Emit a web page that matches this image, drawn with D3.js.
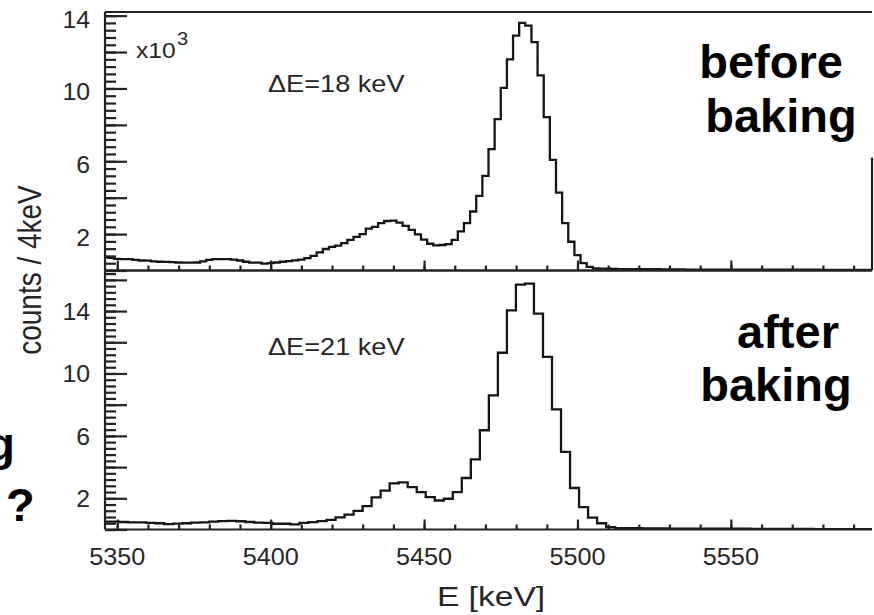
<!DOCTYPE html>
<html><head><meta charset="utf-8">
<script src="https://cdn.jsdelivr.net/npm/d3@7"></script>
<style>body{margin:0;background:#fff;} svg{display:block;}</style>
</head><body>
<svg id="chart" width="874" height="615"></svg>
<script>
// ---- data ----
const xTickValues = [5350, 5400, 5450, 5500, 5550];
const yTickLabelsTop = [2, 6, 10, 14];
const yTickLabelsBottom = [2, 6, 10, 14];
const resolutionLabels = ["\u0394E=18 keV", "\u0394E=21 keV"];
const stateLabels = [["before", "baking"], ["after", "baking"]];

// before baking: bins of 2 keV starting at 5345 keV, counts in 10^3
const beforeBinStart = 5345, beforeBinWidth = 2;
const beforeCounts = [
  0.73,0.70,0.64,0.62,0.62,0.58,0.55,0.54,0.50,0.48,
  0.47,0.46,0.44,0.43,0.43,0.44,0.50,0.58,0.62,0.63,
  0.62,0.60,0.55,0.48,0.43,0.43,0.38,0.40,0.44,0.48,
  0.52,0.56,0.60,0.68,0.80,1.00,1.18,1.30,1.37,1.50,
  1.68,1.85,2.00,2.30,2.40,2.60,2.72,2.74,2.63,2.45,
  2.23,1.98,1.70,1.47,1.38,1.40,1.45,1.68,2.15,2.60,
  3.24,4.10,5.20,6.67,8.32,10.03,11.60,12.90,13.60,13.45,
  12.54,10.72,8.43,6.08,4.28,2.60,1.58,0.85,0.40,0.20,
  0.12,0.10,0.10,0.09,0.08,0.08,0.08,0.07,0.07,0.07,
  0.07,0.06,0.06,0.06,0.06,0.05,0.05,0.05,0.05,0.05,
  0.05,0.05,0.05,0.05,0.04,0.04,0.04,0.04,0.04,0.04,
  0.04,0.04,0.04,0.04,0.04,0.04,0.04,0.03,0.03,0.03,
  0.03,0.03,0.03,0.03,0.03,0.03
];

// after baking: coarser bins, counts in 10^3
const afterBinStart = 5344.7, afterBinWidth = 2.94;
const afterCounts = [
  0.50,
  0.50,0.48,0.46,0.46,0.43,0.40,0.35,0.38,0.40,0.44,
  0.46,0.50,0.54,0.55,0.53,0.48,0.44,0.42,0.37,0.37,
  0.33,0.42,0.47,0.54,0.62,0.78,0.95,1.20,1.50,2.06,
  2.49,2.95,3.02,2.72,2.40,2.07,1.86,1.97,2.40,3.30,
  4.50,6.36,8.60,11.33,14.05,15.70,15.76,13.83,11.06,7.70,
  4.97,2.66,1.44,0.76,0.40,0.15,0.09,0.08,0.08,0.07,
  0.07,0.07,0.06,0.06,0.06,0.05,0.05,0.05,0.05,0.05,
  0.05,0.04,0.04,0.04,0.04,0.04,0.04,0.04,0.03,0.03,
  0.03,0.03,0.03,0.03,0.03
];

// ---- drawing ----
const svg = d3.select("#chart");
const FONT = "'Liberation Sans', Arial, Helvetica, sans-serif";
const X0 = 105, X1 = 872;
const x = d3.scaleLinear().domain([5346, 5596]).range([X0, X1]);
const INK = "#222";

const panels = [
  { counts: beforeCounts, start: beforeBinStart, width: beforeBinWidth,
    y: d3.scaleLinear().domain([0, 14.2]).range([270.5, 12]),
    labels: yTickLabelsTop, labelDy: 12, res: resolutionLabels[0], resY: 92,
    state: stateLabels[0], stateX: [771, 781], stateY: [78, 132] },
  { counts: afterCounts, start: afterBinStart, width: afterBinWidth,
    y: d3.scaleLinear().domain([0, 16.6]).range([529.5, 270.5]),
    labels: yTickLabelsBottom, labelDy: 9, res: resolutionLabels[1], resY: 355,
    state: stateLabels[1], stateX: [788, 776], stateY: [348, 401] }
];

function stretchedText(parent, px, py, str, size, sx, anchor) {
  const g = parent.append("g").attr("transform", `translate(${px},${py}) scale(${sx},1)`);
  g.append("text").attr("x", 0).attr("y", 0)
    .attr("font-family", FONT).attr("font-size", size)
    .attr("text-anchor", anchor || "start").attr("fill", "#262626").text(str);
  return g;
}

const defs = svg.append("defs");

panels.forEach((p, pi) => {
  const [yb, yt] = p.y.range();
  const ymax = p.y.domain()[1];

  defs.append("clipPath").attr("id", "clip" + pi)
    .append("rect").attr("x", X0).attr("y", yt).attr("width", X1 - X0).attr("height", yb - yt);

  // histogram (step line)
  const pts = p.counts.map((c, i) => [p.start + i * p.width, c]);
  pts.push([p.start + p.counts.length * p.width, p.counts[p.counts.length - 1]]);
  const line = d3.line().x(d => x(d[0])).y(d => p.y(d[1])).curve(d3.curveStepAfter);
  svg.append("path").datum(pts).attr("d", line)
    .attr("clip-path", `url(#clip${pi})`)
    .attr("fill", "none").attr("stroke", "#151515").attr("stroke-width", 2.3);

  // y ticks (inside)
  const yMinor = d3.axisRight(p.y).tickValues(d3.range(0, ymax, 0.4)).tickSize(11).tickFormat("");
  const yMajor = d3.axisRight(p.y).tickValues(d3.range(0, ymax, 2)).tickSize(22).tickFormat("");
  [yMinor, yMajor].forEach(ax => {
    svg.append("g").attr("transform", `translate(${X0},0)`).call(ax)
      .call(g => g.select(".domain").remove())
      .call(g => g.selectAll("line").attr("stroke", INK).attr("stroke-width", 2.2));
  });

  // x ticks (inside, pointing up)
  const xMinor = d3.axisBottom(x).tickValues(d3.range(5350, 5596, 10)).tickSize(-5).tickFormat("");
  const xMajor = d3.axisBottom(x).tickValues(xTickValues).tickSize(-10).tickFormat("");
  [xMinor, xMajor].forEach(ax => {
    svg.append("g").attr("transform", `translate(0,${yb})`).call(ax)
      .call(g => g.select(".domain").remove())
      .call(g => g.selectAll("line").attr("stroke", INK).attr("stroke-width", 2.2));
  });

  // frame: left, top, bottom
  const fr = svg.append("g").attr("stroke", INK).attr("stroke-width", 2.2);
  fr.append("line").attr("x1", X0).attr("x2", X0).attr("y1", yt).attr("y2", yb);
  fr.append("line").attr("x1", X0).attr("x2", X1).attr("y1", yt).attr("y2", yt);
  fr.append("line").attr("x1", X0).attr("x2", X1).attr("y1", yb).attr("y2", yb);
  if (pi === 0) {
    // right edge only partly visible in the reference crop
    fr.append("line").attr("x1", X1).attr("x2", X1).attr("y1", p.y(6.2)).attr("y2", yb);
  }

  // y tick labels
  p.labels.forEach(v => stretchedText(svg, 90, p.y(v) + p.labelDy, String(v), 23, 1.08, "end"));

  // resolution label
  stretchedText(svg, 268, p.resY, p.res, 23, 1.18, "start");

  // state annotation (bold)
  p.state.forEach((s, k) => {
    svg.append("text").attr("x", p.stateX[k]).attr("y", p.stateY[k])
      .attr("font-family", FONT).attr("font-size", 47).attr("font-weight", "bold")
      .attr("text-anchor", "middle").attr("fill", "#000").text(s);
  });
});

// x10^3 multiplier
stretchedText(svg, 136, 58, "x10", 22, 1.12, "start");
stretchedText(svg, 177, 45, "3", 18, 1.12, "start");

// x tick labels
xTickValues.forEach(v => stretchedText(svg, x(v), 565, String(v), 24, 1.05, "middle"));

// axis titles
stretchedText(svg, 491, 606, "E [keV]", 28, 1.2, "middle");
svg.append("text")
  .attr("transform", "translate(41,270) rotate(-90) scale(1,1.2)")
  .attr("font-family", FONT).attr("font-size", 28).attr("text-anchor", "middle")
  .attr("fill", "#262626").text("counts / 4keV");

// remnants of a slide annotation at the left edge
svg.append("text").attr("x", 15).attr("y", 460).attr("font-family", FONT)
  .attr("font-size", 47).attr("font-weight", "bold").attr("text-anchor", "end")
  .attr("fill", "#000").text("g");
svg.append("text").attr("x", 6).attr("y", 521).attr("font-family", FONT)
  .attr("font-size", 47).attr("font-weight", "bold").attr("fill", "#000").text("?");
</script>
</body></html>
